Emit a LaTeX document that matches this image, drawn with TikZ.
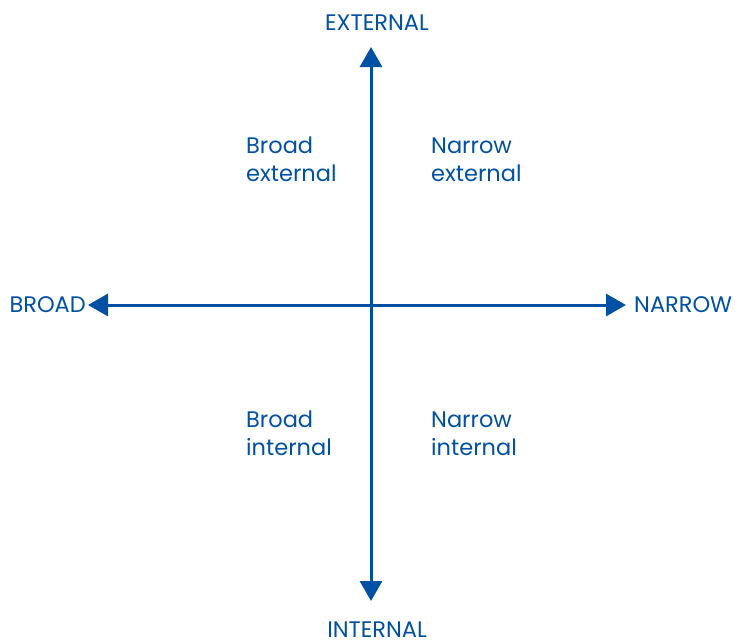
\documentclass[tikz,border=0pt]{standalone}
\usepackage{fontspec}
\setmainfont{Poppins}
\usetikzlibrary{arrows.meta}
\definecolor{axisblue}{RGB}{0,80,164}
\tikzset{
    axis/.style={line width=3pt, draw=axisblue, {Triangle[width=22pt,length=20pt]}-{Triangle[width=22pt,length=20pt]}},
    pole/.style={text=axisblue, font=\fontsize{22.5}{26}\selectfont, inner sep=0pt},
    quad/.style={text=axisblue, font=\fontsize{22.5}{28}\selectfont, align=left, anchor=base west, inner sep=0pt}
}
\begin{document}
\begin{tikzpicture}[x=1pt,y=-1pt]
    \useasboundingbox (0,0) rectangle (742,643);
    \coordinate (top) at (371,47);
    \coordinate (bot) at (371,601);
    \coordinate (lft) at (88,305);
    \coordinate (rgt) at (626,305);
    \draw[axis] (top) -- (bot);
    \draw[axis] (lft) -- (rgt);
    \node[pole, anchor=base] (ext) at (377,30) {EXTERNAL};
    \node[pole, anchor=base] (int) at (377,637) {INTERNAL};
    \node[pole, anchor=base east] (brd) at (86,312) {BROAD};
    \node[pole, anchor=base west] (nrw) at (634,312) {NARROW};
    % base anchor sits on the second line
    \node[quad] (bext) at (246,181) {Broad\\external};
    \node[quad] (next) at (431,181) {Narrow\\external};
    \node[quad] (bint) at (246,455) {Broad\\internal};
    \node[quad] (nint) at (431,455) {Narrow\\internal};
\end{tikzpicture}
\end{document}
